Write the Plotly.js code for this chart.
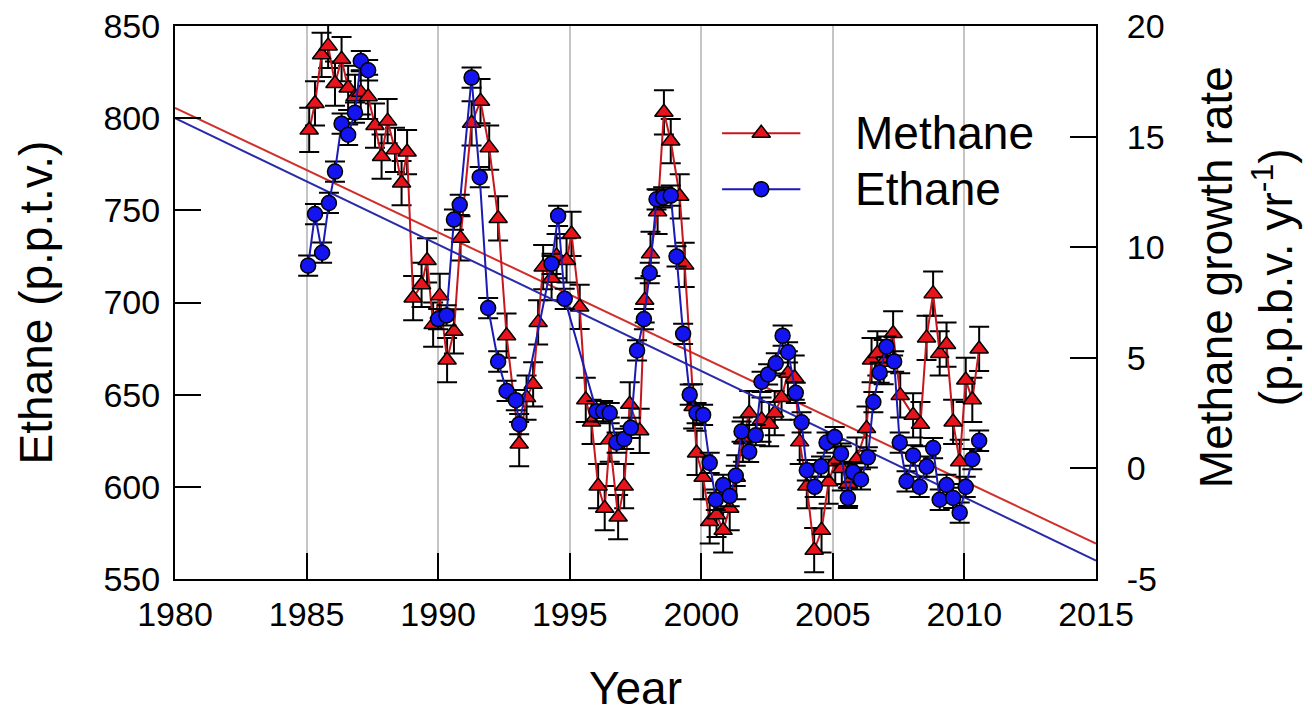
<!DOCTYPE html>
<html>
<head>
<meta charset="utf-8">
<script src="https://cdn.plot.ly/plotly-3.0.1.min.js"></script>
<style>
html,body{margin:0;padding:0;background:#ffffff;}
#chart{width:1312px;height:720px;}
</style>
</head>
<body>
<div id="chart"></div>
<script>
// ---- Data ----
const methaneYears = [1985.10,1985.32,1985.57,1985.82,1986.08,1986.33,1986.58,1986.84,1987.06,1987.34,
  1987.60,1987.85,1988.08,1988.36,1988.61,1988.82,1989.05,1989.37,1989.58,1989.81,
  1990.06,1990.34,1990.60,1990.85,1991.27,1991.61,1991.94,1992.28,1992.60,1993.08,
  1993.36,1993.61,1993.80,1993.99,1994.31,1994.50,1994.88,1995.07,1995.38,1995.61,
  1995.83,1996.08,1996.33,1996.52,1996.84,1997.07,1997.28,1997.66,1997.85,1998.07,
  1998.34,1998.58,1998.84,1999.18,1999.37,1999.69,1999.82,2000.07,2000.32,2000.58,
  2000.83,2001.08,2001.33,2001.58,2001.82,2002.29,2002.58,2002.79,2003.05,2003.29,
  2003.55,2003.74,2004.01,2004.29,2004.57,2004.84,2005.09,2005.34,2005.58,2005.90,
  2006.28,2006.47,2006.69,2006.93,2007.29,2007.56,2008.05,2008.33,2008.56,2008.81,
  2009.06,2009.32,2009.57,2009.82,2010.05,2010.30,2010.56];
const methaneRate = [15.3,16.5,18.7,19.1,17.4,18.5,17.2,16.8,17.0,16.8,
  15.5,14.1,15.7,14.4,12.9,14.3,7.7,8.3,9.4,6.5,
  7.8,4.9,6.2,10.4,15.6,16.6,14.5,11.3,6.0,1.1,
  3.2,3.8,6.6,9.1,8.6,9.6,9.4,10.6,7.3,3.1,
  2.1,-0.8,-1.8,1.3,-2.2,-0.8,2.9,1.7,7.6,9.7,
  11.6,16.1,14.8,12.3,9.2,2.8,0.7,-0.4,-2.4,-2.1,
  -2.8,-1.8,-0.4,1.3,2.5,2.2,2.0,2.5,3.2,4.3,
  4.1,1.2,-0.8,-3.7,-2.8,-0.6,0.3,0.0,-0.7,0.4,
  1.8,4.9,5.2,4.8,6.1,3.3,2.4,2.0,5.9,7.9,
  5.2,5.6,2.1,0.3,4.0,3.1,5.4];

const ethaneYears = [1985.06,1985.32,1985.59,1985.85,1986.08,1986.33,1986.58,1986.84,1987.06,1987.34,
  1988.50,
  1990.00,1990.32,1990.60,1990.82,1991.27,1991.58,1991.90,1992.28,1992.60,1992.95,
  1993.08,1994.31,1994.56,1994.81,1996.02,1996.27,1996.52,1996.78,1997.07,1997.32,
  1997.56,1997.82,1998.04,1998.30,1998.55,1998.84,1999.06,1999.31,1999.56,1999.82,
  2000.07,2000.32,2000.55,2000.83,2001.08,2001.31,2001.53,2001.82,2002.07,2002.29,
  2002.54,2002.83,2003.09,2003.30,2003.59,2003.81,2004.01,2004.31,2004.55,2004.76,
  2005.07,2005.31,2005.57,2005.77,2006.07,2006.33,2006.54,2006.78,2007.04,2007.33,
  2007.54,2007.80,2008.05,2008.30,2008.56,2008.81,2009.06,2009.32,2009.57,2009.82,
  2010.05,2010.30,2010.56];
const ethaneValues = [720,748,727,754,771,797,791,803,831,826,
  null,
  691,693,745,753,822,768,697,668,652,647,
  634,721,747,702,641,641,640,624,626,632,
  674,691,716,756,757,758,725,683,650,640,
  639,613,593,601,595,606,630,619,628,657,
  661,667,682,673,651,635,609,600,611,624,
  627,618,594,608,604,616,646,662,676,668,
  624,603,617,600,611,621,593,601,594,586,
  600,615,625];

const trendYears = [1980, 2015];
const methaneTrend = [16.3, -3.4];
const ethaneTrend = [800, 560];

const methaneError = 1.0;   // p.p.b.v. per year
const ethaneError = 5.5;    // p.p.t.v.

const yearTicks = [1980, 1985, 1990, 1995, 2000, 2005, 2010, 2015];
const ethaneTicks = [550, 600, 650, 700, 750, 800, 850];
const methaneTicks = [-5, 0, 5, 10, 15, 20];
const seriesNames = ['Methane', 'Ethane'];
const titles = {
  x: 'Year',
  left: 'Ethane (p.p.t.v.)',
  right: 'Methane growth rate<br>(p.p.b.v. yr<sup>-1</sup>)'
};

// ---- Styles ----
const FONT = 'Liberation Sans, Arial, Helvetica, sans-serif';
const RED_FILL = '#e8141c', RED_LINE = '#c8161e';
const BLUE_FILL = '#1414f0', BLUE_LINE = '#1a1ab4';
const TITLE_SIZE = 46;

const triMarker = {symbol: 'triangle-up', size: 16, color: RED_FILL, line: {color: '#000', width: 1.5}};
const dotMarker = {symbol: 'circle', size: 15, color: BLUE_FILL, line: {color: '#000', width: 1.5}};

const traces = [
  // trend lines
  {x: trendYears, y: methaneTrend, xaxis: 'x', yaxis: 'y', mode: 'lines',
   line: {color: '#d0302c', width: 2}, hoverinfo: 'skip'},
  {x: trendYears, y: ethaneTrend, xaxis: 'x', yaxis: 'y2', mode: 'lines',
   line: {color: '#2a2aa8', width: 2}, hoverinfo: 'skip'},
  // methane growth rate (right axis)
  {x: methaneYears, y: methaneRate, xaxis: 'x', yaxis: 'y', name: seriesNames[0],
   mode: 'lines+markers',
   line: {color: RED_LINE, width: 2},
   marker: triMarker,
   error_y: {type: 'constant', value: methaneError, color: '#000', thickness: 2, width: 10}},
  // ethane (left axis)
  {x: ethaneYears, y: ethaneValues, xaxis: 'x', yaxis: 'y2', name: seriesNames[1],
   mode: 'lines+markers', connectgaps: false,
   line: {color: BLUE_LINE, width: 2},
   marker: dotMarker,
   error_y: {type: 'constant', value: ethaneError, color: '#000', thickness: 2, width: 10}},
  // legend samples (on a hidden unit overlay)
  {x: [0.594, 0.679], y: [0.806, 0.806], xaxis: 'x3', yaxis: 'y3', mode: 'lines',
   line: {color: RED_LINE, width: 2}, hoverinfo: 'skip'},
  {x: [0.6365], y: [0.806], xaxis: 'x3', yaxis: 'y3', mode: 'markers',
   marker: triMarker, hoverinfo: 'skip'},
  {x: [0.594, 0.679], y: [0.705, 0.705], xaxis: 'x3', yaxis: 'y3', mode: 'lines',
   line: {color: BLUE_LINE, width: 2}, hoverinfo: 'skip'},
  {x: [0.6365], y: [0.705], xaxis: 'x3', yaxis: 'y3', mode: 'markers',
   marker: dotMarker, hoverinfo: 'skip'}
];

const axisCommon = {
  zeroline: false, showline: true, linecolor: '#000', linewidth: 2,
  tickcolor: '#000', tickwidth: 2, tickfont: {family: FONT, size: 34, color: '#000'},
  fixedrange: true
};

const layout = {
  width: 1312, height: 720,
  margin: {l: 175, r: 216, t: 26, b: 141, pad: 0},
  paper_bgcolor: '#ffffff', plot_bgcolor: '#ffffff',
  showlegend: false,
  font: {family: FONT, color: '#000', size: 34},
  xaxis: Object.assign({}, axisCommon, {
    range: [1980, 2015], tickvals: yearTicks, ticktext: yearTicks.map(String),
    showgrid: true, gridcolor: '#c4c4c4', gridwidth: 2,
    mirror: true, ticks: 'inside', ticklen: 26, ticklabelstandoff: 4,
    title: {text: titles.x, font: {family: FONT, size: TITLE_SIZE, color: '#000'}, standoff: 40}
  }),
  yaxis: Object.assign({}, axisCommon, {
    range: [-5, 20], tickvals: methaneTicks, ticktext: methaneTicks.map(String),
    side: 'right', showgrid: false, ticks: 'inside', ticklen: 26, ticklabelstandoff: 22
  }),
  yaxis2: Object.assign({}, axisCommon, {
    range: [550, 850], tickvals: ethaneTicks, ticktext: ethaneTicks.map(String),
    overlaying: 'y', side: 'left', showgrid: false, ticks: 'inside', ticklen: 26, ticklabelstandoff: 6,
    title: {text: titles.left, font: {family: FONT, size: TITLE_SIZE, color: '#000'}, standoff: 36}
  }),
  xaxis3: {overlaying: 'x', range: [0, 1], visible: false, fixedrange: true},
  yaxis3: {overlaying: 'y', range: [0, 1], visible: false, fixedrange: true, anchor: 'x3'},
  annotations: [
    {xref: 'paper', yref: 'paper', x: 0.736, y: 0.806, xanchor: 'left', yanchor: 'middle',
     text: seriesNames[0], showarrow: false, font: {family: FONT, size: TITLE_SIZE, color: '#000'}},
    {xref: 'paper', yref: 'paper', x: 0.736, y: 0.705, xanchor: 'left', yanchor: 'middle',
     text: seriesNames[1], showarrow: false, font: {family: FONT, size: TITLE_SIZE, color: '#000'}},
    {xref: 'paper', yref: 'paper', x: 1.163, y: 0.546, xanchor: 'center', yanchor: 'middle',
     text: titles.right, textangle: -90, showarrow: false, align: 'center',
     font: {family: FONT, size: TITLE_SIZE, color: '#000'}}
  ]
};

Plotly.newPlot('chart', traces, layout, {displayModeBar: false, staticPlot: true});
</script>
</body>
</html>
